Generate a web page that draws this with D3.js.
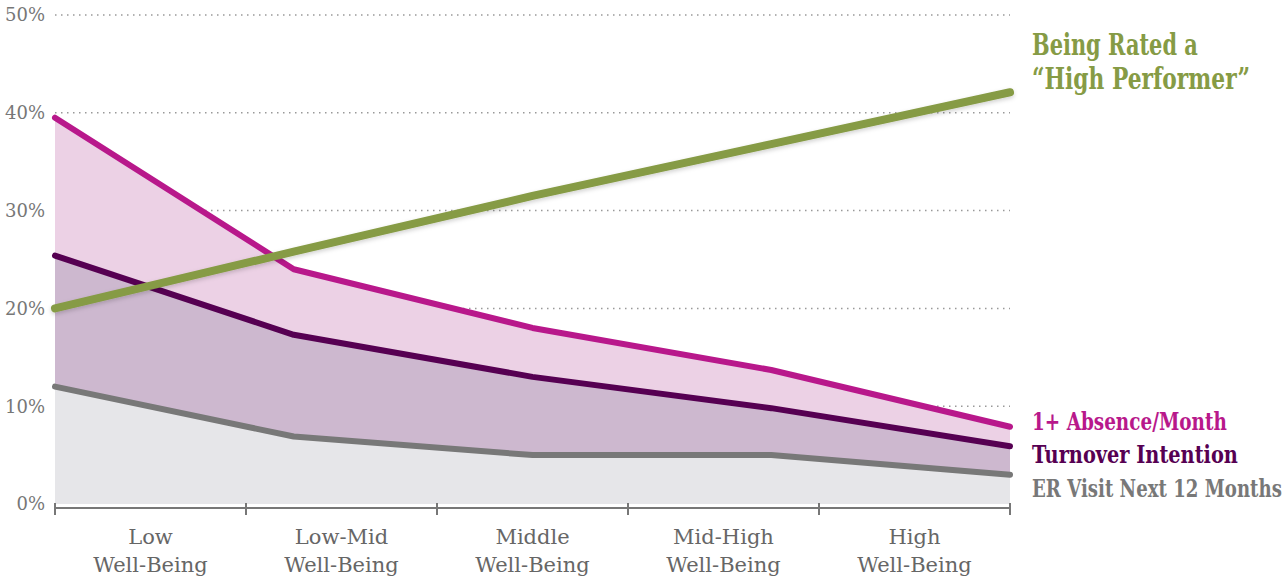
<!DOCTYPE html>
<html>
<head>
<meta charset="utf-8">
<script src="https://cdn.jsdelivr.net/npm/d3@7"></script>
<style>
	body { margin: 0; background: #fff; }
	svg { display: block; }
</style>
</head>
<body>
<div id="chart"></div>
<script>

// categories along the bottom
const categories = ['Low', 'Low-Mid', 'Middle', 'Mid-High', 'High'];

// series values, percent
const highPerformer = [20.0, 25.8, 31.5, 36.8, 42.1];
const absence = [39.5, 24.0, 18.0, 13.7, 7.9];
const turnover = [25.4, 17.3, 13.0, 9.8, 5.9];
const erVisit = [12.0, 6.9, 5.0, 5.0, 3.0];

const yTicks = [0, 10, 20, 30, 40, 50];

const chartWidth = 1285;
const chartHeight = 576;
const plotLeft = 55;
const plotRight = 1010;
const plotTop = 15;
const plotBottom = 504;

const slab = '"DejaVu Serif", serif';

const svg = d3.select('#chart')
	.append('svg')
		.attr('width', chartWidth)
		.attr('height', chartHeight);

const defs = svg.append('defs');
const shadow = defs.append('filter')
	.attr('id', 'shadow')
	.attr('x', '-5%').attr('y', '-50%')
	.attr('width', '110%').attr('height', '200%');
shadow.append('feDropShadow')
	.attr('dx', 0).attr('dy', 2)
	.attr('stdDeviation', 2)
	.attr('flood-color', '#000')
	.attr('flood-opacity', 0.18);

const xScale = d3.scalePoint()
	.domain(categories)
	.range([plotLeft, plotRight]);

// bands are only for the axis ticks and labels
const xBand = d3.scaleBand()
	.domain(categories)
	.range([plotLeft, plotRight]);

const yScale = d3.scaleLinear()
	.domain([0, 50])
	.range([plotBottom, plotTop]);

// squeeze a text horizontally to a given width (the original uses a condensed slab face)
function squeeze(sel, x, y, width, anchor) {
	sel.each(function() {
		const natural = this.getComputedTextLength();
		const sx = Math.min(1, width / natural);
		const dx = anchor == 'end' ? -natural * sx : 0;
		d3.select(this)
			.attr('x', 0).attr('y', 0)
			.attr('transform', `translate(${x + dx}, ${y}) scale(${sx}, 1)`);
	});
}

// dotted grid
svg.append('g')
	.selectAll('line')
	.data(yTicks.filter(d => d > 0))
	.enter().append('line')
		.attr('x1', plotLeft)
		.attr('x2', plotRight)
		.attr('y1', d => yScale(d))
		.attr('y2', d => yScale(d))
		.attr('stroke', '#999')
		.attr('stroke-width', 1.5)
		.attr('stroke-dasharray', '1.5,4.5');

// y labels
svg.append('g')
	.selectAll('text')
	.data(yTicks)
	.enter().append('text')
		.attr('dy', '0.35em')
		.attr('fill', '#777')
		.style('font-family', slab)
		.style('font-size', '18px')
		.text(d => d + '%')
		.each(function(d) {
			squeeze(d3.select(this), 45, yScale(d), 40, 'end');
		});

// areas
const area = d3.area()
	.x((d, i) => xScale(categories[i]))
	.y0(yScale(0))
	.y1(d => yScale(d));

svg.append('path').datum(absence).attr('d', area).attr('fill', '#ecd1e5');
svg.append('path').datum(turnover).attr('d', area).attr('fill', '#cdb8cf');
svg.append('path').datum(erVisit).attr('d', area).attr('fill', '#e6e6e9');

// x axis
const axisY = plotBottom + 4;
const xAxis = svg.append('g').attr('class', 'x-axis');
xAxis.append('line')
	.attr('x1', plotLeft).attr('x2', plotRight)
	.attr('y1', axisY).attr('y2', axisY)
	.attr('stroke', '#777')
	.attr('stroke-width', 2);

const tickPos = categories.map(c => xBand(c)).concat([plotRight]);
xAxis.selectAll('.tick')
	.data(tickPos)
	.enter().append('line')
		.attr('class', 'tick')
		.attr('x1', d => d).attr('x2', d => d)
		.attr('y1', axisY - 5).attr('y2', axisY + 7)
		.attr('stroke', '#777')
		.attr('stroke-width', 2);

const labels = xAxis.selectAll('.lbl')
	.data(categories)
	.enter().append('text')
		.attr('class', 'lbl')
		.attr('x', d => xBand(d) + xBand.bandwidth() / 2)
		.attr('y', 544)
		.attr('text-anchor', 'middle')
		.attr('fill', '#666')
		.style('font-family', slab)
		.style('font-size', '21px');
labels.append('tspan').text(d => d);
labels.append('tspan')
	.attr('x', d => xBand(d) + xBand.bandwidth() / 2)
	.attr('dy', 28)
	.text('Well-Being');

// lines
const line = d3.line()
	.x((d, i) => xScale(categories[i]))
	.y(d => yScale(d));

function drawLine(values, color, w, filter) {
	const p = svg.append('path')
		.datum(values)
		.attr('d', line)
		.attr('fill', 'none')
		.attr('stroke', color)
		.attr('stroke-width', w)
		.attr('stroke-linecap', 'round')
		.attr('stroke-linejoin', 'round');
	if (filter) p.attr('filter', filter);
}

drawLine(erVisit, '#787878', 6);
drawLine(turnover, '#560052', 6);
drawLine(absence, '#b8188b', 6);
drawLine(highPerformer, '#869b45', 8, 'url(#shadow)');

// series labels
function label(text, x, y, color, size, len) {
	const t = svg.append('text')
		.attr('fill', color)
		.style('font-family', slab)
		.style('font-weight', 'bold')
		.style('font-size', size + 'px')
		.text(text);
	squeeze(t, x, y, len, 'start');
}

label('Being Rated a', 1032, 55, '#869b45', 29, 166);
label('\u201CHigh Performer\u201D', 1032, 89, '#869b45', 29, 218);
label('1+ Absence/Month', 1032, 430, '#b8188b', 25, 195);
label('Turnover Intention', 1032, 463, '#560052', 25, 206);
label('ER Visit Next 12 Months', 1032, 497, '#787878', 25, 250);

</script>
</body>
</html>
